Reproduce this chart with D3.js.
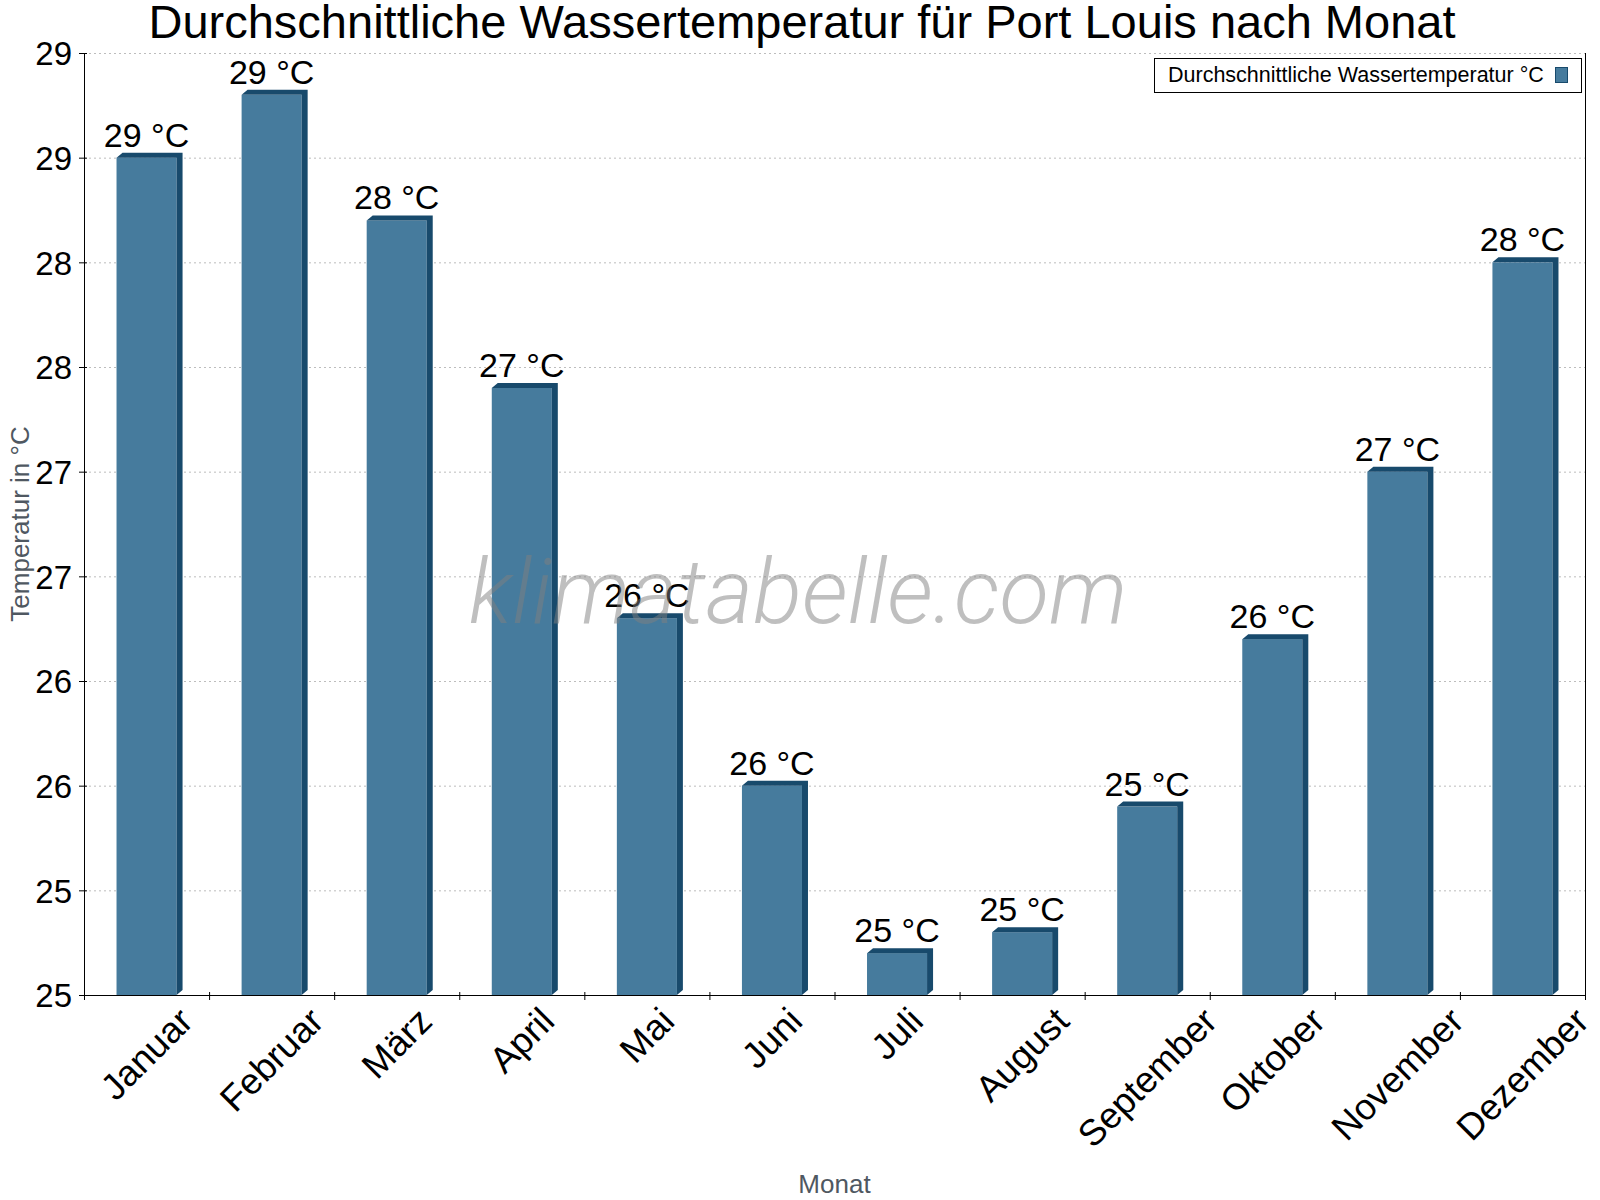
<!DOCTYPE html>
<html>
<head>
<meta charset="utf-8">
<script src="https://cdn.jsdelivr.net/npm/d3@7"></script>
<style>
    body { margin: 0; background: #fff; }
    text { font-family: "Liberation Sans", Arial, sans-serif; }
</style>
</head>
<body>
<div id="chart"></div>
<script>
// data
var months = ["Januar", "Februar", "März", "April", "Mai", "Juni", "Juli", "August", "September", "Oktober", "November", "Dezember"];
var temps = [29.0, 29.3, 28.7, 27.9, 26.8, 26.0, 25.2, 25.3, 25.9, 26.7, 27.5, 28.5];
var yTicks = [25, 25.5, 26, 26.5, 27, 27.5, 28, 28.5, 29, 29.5];

var title = "Durchschnittliche Wassertemperatur für Port Louis nach Monat";
var legendText = "Durchschnittliche Wassertemperatur °C";

var width = 1600, height = 1200;
var margin = {top: 53, right: 15, bottom: 205, left: 84};
var front = "#467b9d", dark = "#184a6c";
var depthX = 6, depthY = 5;

var svg = d3.select("#chart")
    .append("svg")
    .attr("width", width)
    .attr("height", height);

var x = d3.scaleBand()
    .domain(months)
    .range([margin.left, width - margin.right])
    .padding(0);

var y = d3.scaleLinear()
    .domain([25, 29.5])
    .range([height - margin.bottom, margin.top]);

var fmt = function (d) { return Math.floor(d).toString(); };

// grid lines
svg.append("g")
    .selectAll("line")
    .data(yTicks.slice(1))
    .enter()
    .append("line")
    .attr("x1", margin.left)
    .attr("x2", width - margin.right)
    .attr("y1", function (d) { return y(d) + 0.5; })
    .attr("y2", function (d) { return y(d) + 0.5; })
    .style("stroke", "#bdbdbd")
    .style("stroke-dasharray", "2,3");

// bars (front + side + top)
var barW = x.bandwidth() * 0.48;
var bars = svg.append("g")
    .selectAll("g")
    .data(temps)
    .enter()
    .append("g");

bars.append("rect")
    .attr("x", function (d, i) { return x(months[i]) + (x.bandwidth() - barW) / 2; })
    .attr("y", function (d) { return y(d); })
    .attr("width", barW)
    .attr("height", function (d) { return y(25) - y(d); })
    .attr("fill", front);

bars.append("path")
    .attr("fill", dark)
    .attr("d", function (d, i) {
        var x0 = x(months[i]) + (x.bandwidth() - barW) / 2, x1 = x0 + barW;
        var t = y(d), b = y(25);
        return "M" + x1 + "," + t + "L" + (x1 + depthX) + "," + (t - depthY) +
            "L" + (x1 + depthX) + "," + (b - depthY) + "L" + x1 + "," + b + "Z" +
            "M" + x0 + "," + t + "L" + (x0 + depthX) + "," + (t - depthY) +
            "L" + (x1 + depthX) + "," + (t - depthY) + "L" + x1 + "," + t + "Z";
    });

// axes
var yAxis = svg.append("g")
    .attr("transform", "translate(" + margin.left + ",0)")
    .call(d3.axisLeft(y).tickValues(yTicks).tickFormat(fmt).tickSizeInner(5).tickSizeOuter(0).tickPadding(7));
yAxis.select(".domain").style("stroke", "#000");
yAxis.selectAll(".tick line").attr("x2", 3).attr("x1", -5);
yAxis.selectAll(".tick text")
    .style("font-size", "33px")
    .style("font-family", "'Liberation Sans', Arial, sans-serif")
    .attr("dy", "0.36em");

var xAxis = svg.append("g")
    .attr("transform", "translate(0," + (height - margin.bottom) + ")")
    .call(d3.axisBottom(x).tickSize(0).tickFormat(""));
xAxis.select(".domain").style("stroke", "#000");

// ticks on the band edges
svg.append("g")
    .selectAll("line")
    .data(d3.range(months.length + 1))
    .enter()
    .append("line")
    .attr("x1", function (i) { return margin.left + i * x.step() + 0.5; })
    .attr("x2", function (i) { return margin.left + i * x.step() + 0.5; })
    .attr("y1", y(25) - 3)
    .attr("y2", y(25) + 5)
    .style("stroke", "#000");

// right border
svg.append("line")
    .attr("x1", width - margin.right + 0.5)
    .attr("x2", width - margin.right + 0.5)
    .attr("y1", margin.top)
    .attr("y2", y(25))
    .style("stroke", "#000");

// rotated month labels, box centered under the band
var labelTop = 1000;
var mLabels = svg.append("g")
    .selectAll("text")
    .data(months)
    .enter()
    .append("text")
    .attr("text-anchor", "middle")
    .style("font-size", "36.5px")
    .attr("transform", function (d) {
        return "translate(" + (x(d) + x.bandwidth() / 2) + "," + labelTop + ") rotate(-45)";
    })
    .text(function (d) { return d; });

mLabels.each(function (d) {
    var r = this.getBoundingClientRect();
    var cx = x(d) + x.bandwidth() / 2;
    var tx = cx + (cx - (r.left + r.width / 2));
    var ty = labelTop + (labelTop - r.top);
    d3.select(this).attr("transform", "translate(" + tx + "," + ty + ") rotate(-45)");
});

// axis titles
svg.append("text")
    .attr("transform", "translate(29," + ((margin.top + y(25)) / 2) + ") rotate(-90)")
    .attr("text-anchor", "middle")
    .style("font-size", "26px")
    .style("fill", "#4f5861")
    .text("Temperatur in °C");

svg.append("text")
    .attr("x", (margin.left + width - margin.right) / 2)
    .attr("y", 1193)
    .attr("text-anchor", "middle")
    .style("font-size", "26px")
    .style("fill", "#4f5861")
    .text("Monat");

// watermark
svg.append("text")
    .attr("x", 798)
    .attr("y", 623)
    .attr("text-anchor", "middle")
    .style("font-family", "Roboto, 'Liberation Sans', sans-serif")
    .style("font-weight", "300")
    .style("font-style", "italic")
    .style("font-size", "91px")
    .style("fill", "#808080")
    .style("opacity", 0.5)
    .text("klimatabelle.com");

// value labels
bars.append("text")
    .attr("x", function (d, i) { return x(months[i]) + x.bandwidth() / 2; })
    .attr("y", function (d) { return y(d) - 11; })
    .attr("text-anchor", "middle")
    .style("font-size", "34px")
    .style("fill", "#000")
    .text(function (d) { return fmt(d) + " °C"; });

// title
svg.append("text")
    .attr("x", 802)
    .attr("y", 38)
    .attr("text-anchor", "middle")
    .style("font-size", "47px")
    .style("fill", "#000")
    .text(title);

// legend
var lg = svg.append("g");
lg.append("rect")
    .attr("x", 1154.5)
    .attr("y", 58.5)
    .attr("width", 427)
    .attr("height", 34)
    .style("fill", "#fff")
    .style("stroke", "#000");
lg.append("text")
    .attr("x", 1168)
    .attr("y", 82)
    .style("font-size", "21.5px")
    .style("fill", "#000")
    .text(legendText);
lg.append("rect")
    .attr("x", 1555.5)
    .attr("y", 67.5)
    .attr("width", 12)
    .attr("height", 15)
    .style("fill", front)
    .style("stroke", dark);
</script>
</body>
</html>
